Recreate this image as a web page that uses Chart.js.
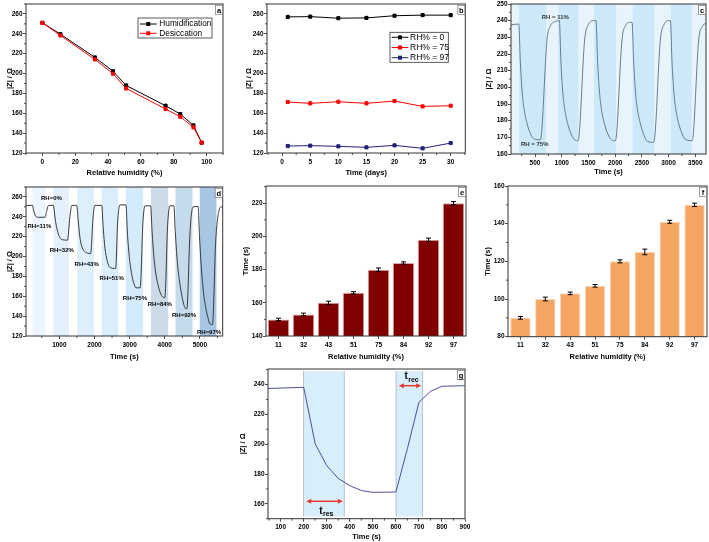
<!DOCTYPE html>
<html>
<head>
<meta charset="utf-8">
<script src="https://cdn.jsdelivr.net/npm/chart.js@4.4.0/dist/chart.umd.min.js"></script>
<style>
  html, body { margin: 0; padding: 0; background: #fff; width: 709px; height: 542px; overflow: hidden; position: relative; }
  canvas { position: absolute; }
</style>
</head>
<body>
<canvas id="pa"></canvas>
<canvas id="pb"></canvas>
<canvas id="pc"></canvas>
<canvas id="pd"></canvas>
<canvas id="pe"></canvas>
<canvas id="pf"></canvas>
<canvas id="pg"></canvas>
<script>
// ---- (a) |Z| vs relative humidity
const aRH = [0, 11, 32, 43, 51, 75, 84, 92, 97];
const aHumid = [251, 239.6, 216.2, 202.3, 188, 167.6, 159.2, 147.8, 130.4];
const aDesic = [251, 238.3, 214.2, 199.8, 185, 164.3, 156.5, 145.8, 130.4];
const aXTicks = [0, 20, 40, 60, 80, 100];
const zTicks = [120, 140, 160, 180, 200, 220, 240, 260];

// ---- (b) stability over days
const bDays = [1, 5, 10, 15, 20, 25, 30];
const bRH0 = [257, 257.3, 255.7, 256, 258.2, 258.8, 258.8];
const bRH75 = [171.3, 170, 171.6, 170, 172.3, 166.9, 167.6];
const bRH97 = [127, 127.4, 126.7, 125.7, 127.7, 124.7, 130];
const bXTicks = [0, 5, 10, 15, 20, 25, 30];

// ---- (c) repeated switching 11% <-> 75%
const cTime = [50, 195, 225, 255, 290, 345, 415, 485, 600, 725, 790, 880,
  955, 985, 1015, 1050, 1105, 1175, 1245, 1305, 1430, 1495, 1585,
  1642, 1672, 1702, 1737, 1792, 1862, 1932, 2004, 2129, 2194, 2280,
  2316, 2346, 2376, 2411, 2466, 2536, 2606, 2722, 2847, 2912, 3000,
  3034, 3064, 3094, 3129, 3184, 3254, 3324, 3440, 3565, 3630, 3700];
const cZ = [237.5, 238, 215, 199, 188, 179, 172, 169, 168.5, 229, 237, 239.5,
  240, 215, 199, 188, 179, 172, 168.5, 168, 229, 237.5, 240,
  240, 215, 199, 188, 179, 172, 168.5, 168, 229, 237, 239,
  239, 215, 199, 188, 179, 171.5, 167.5, 167, 229, 237.5, 240,
  240, 215, 199, 188, 179, 172, 168.5, 168, 229, 236.5, 238.5];
const cHumidBands = [[200, 706], [936, 1311], [1605, 2017], [2329, 2728], [3041, 3434]];
const cXTicks = [500, 1000, 1500, 2000, 2500, 3000, 3500];
const cYTicks = [160, 170, 180, 190, 200, 210, 220, 230, 240, 250];

// ---- (d) stepwise RH response
const dTime = [54, 233, 270, 320, 400, 594, 640, 690,
  830, 880, 930, 1000, 1080, 1230, 1300, 1352,
  1494, 1540, 1590, 1650, 1720, 1800, 1890, 1960, 2014,
  2205, 2250, 2300, 2360, 2440, 2602, 2660, 2724,
  2895, 2940, 2990, 3050, 3120, 3180, 3300, 3380, 3435,
  3597, 3640, 3690, 3750, 3820, 3890, 3955, 4003, 4080, 4145,
  4259, 4300, 4350, 4410, 4480, 4540, 4580, 4630, 4720, 4807,
  4949, 4990, 5040, 5100, 5170, 5240, 5290, 5358, 5450, 5545, 5613, 5650];
const dZ = [251.5, 251.5, 246, 241, 239.5, 239.5, 246, 251.5,
  251.5, 238, 228, 220, 217, 216.5, 240, 251.5,
  251.5, 235, 218, 209, 205, 203.5, 203, 240, 251.5,
  251.5, 228, 208, 196, 189, 188, 235, 252,
  252, 222, 200, 184, 173, 168.5, 168.5, 235, 251,
  251, 225, 200, 182, 170, 162, 159, 158.5, 230, 251,
  251, 225, 198, 178, 162, 152, 148, 147.5, 225, 250,
  250.5, 220, 190, 165, 148, 137, 132, 131.5, 215, 246.5, 250, 250];
const dBands = [[233, 594], [830, 1276], [1511, 1986], [2205, 2676], [2895, 3386], [3605, 4097], [4307, 4790], [4997, 5472]];
const dBandColors = ['#eaf5fd', '#e2f1fc', '#ddeffb', '#d9edfa', '#d3ebfa', '#cbdce8', '#c4dbec', '#a6c6e3'];
const dLabels = ['RH=0%', 'RH=11%', 'RH=32%', 'RH=43%', 'RH=51%', 'RH=75%', 'RH=84%', 'RH=92%', 'RH=97%'];
const dLabelX = [774, 430, 1068, 1778, 2489, 3150, 3861, 4551, 5261];
const dLabelY = [258.4, 230.8, 206, 191.9, 178.1, 158.3, 152.3, 140.6, 124];
const dXTicks = [1000, 2000, 3000, 4000, 5000];

// ---- (e) response time, (f) recovery time
const rhCats = ['11', '32', '43', '51', '75', '84', '92', '97'];
const eResp = [150, 153, 160, 166, 180, 184, 198, 220];
const eErr = [0.7, 0.8, 1, 0.7, 1, 0.7, 1, 1];
const eYTicks = [140, 160, 180, 200, 220];
const fRecov = [90, 100, 103, 107, 120, 125, 141, 150];
const fErr = [0.7, 1, 0.7, 0.7, 0.8, 1.5, 0.8, 0.9];
const fYTicks = [80, 100, 120, 140, 160];

// ---- (g) single cycle
const gTime = [45, 200, 250, 300, 350, 400, 450, 500, 600, 650, 700, 750, 800, 900];
const gZ = [237.4, 238.2, 200.2, 185.6, 177, 172.2, 168.9, 167.7, 167.9, 197, 228.1, 235.5, 238.9, 239.3];
const gBands = [[197, 378], [599, 718]];
const gXTicks = [100, 200, 300, 400, 500, 600, 700, 800, 900];
const gYTicks = [160, 180, 200, 220, 240];

const FONT = '"Liberation Sans", Arial, Helvetica, sans-serif';
const TICK = { size: 6.5, weight: 'bold', family: FONT };
const TITLE = { size: 7.5, weight: 'bold', family: FONT };
const LH = 7.5 * 1.2;

const pts = (xs, ys) => xs.map((x, i) => ({ x, y: ys[i] }));

const deco = {
  id: 'deco',
  beforeDatasetsDraw(chart, _a, o) {
    const { ctx, chartArea: ca, scales: { x, y } } = chart;
    ctx.save();
    ctx.beginPath(); ctx.rect(ca.left, ca.top, ca.width, ca.height); ctx.clip();
    if (o.bg) { ctx.fillStyle = o.bg; ctx.fillRect(ca.left, ca.top, ca.width, ca.height); }
    (o.bands || []).forEach(b => {
      const x0 = x.getPixelForValue(b.from), x1 = x.getPixelForValue(b.to);
      const y0 = b.top != null ? y.getPixelForValue(b.top) : ca.top;
      const y1 = b.bottom != null ? y.getPixelForValue(b.bottom) : ca.bottom;
      ctx.fillStyle = b.color;
      ctx.fillRect(x0, y0, x1 - x0, y1 - y0);
      if (b.edge) {
        ctx.strokeStyle = b.edge; ctx.lineWidth = 1;
        ctx.beginPath();
        ctx.moveTo(x0 + 0.5, y0); ctx.lineTo(x0 + 0.5, y1);
        ctx.moveTo(x1 - 0.5, y0); ctx.lineTo(x1 - 0.5, y1);
        ctx.stroke();
      }
    });
    ctx.restore();
  },
  afterDatasetsDraw(chart, _a, o) {
    const { ctx, scales: { x, y } } = chart;
    ctx.save();
    if (o.errors) {
      const meta = chart.getDatasetMeta(0);
      const vals = chart.data.datasets[0].data;
      ctx.strokeStyle = '#000'; ctx.lineWidth = 1;
      meta.data.forEach((bar, i) => {
        const yt = y.getPixelForValue(vals[i] + o.errors[i]);
        const yb = y.getPixelForValue(vals[i] - o.errors[i]);
        ctx.beginPath();
        ctx.moveTo(bar.x, yt); ctx.lineTo(bar.x, yb);
        ctx.moveTo(bar.x - 2.5, yt); ctx.lineTo(bar.x + 2.5, yt);
        ctx.moveTo(bar.x - 2.5, yb); ctx.lineTo(bar.x + 2.5, yb);
        ctx.stroke();
      });
    }
    (o.notes || []).forEach(n => {
      ctx.font = `bold ${n.size || 6}px ${FONT}`;
      ctx.fillStyle = n.color || '#000';
      ctx.textAlign = 'center'; ctx.textBaseline = 'middle';
      ctx.fillText(n.text, x.getPixelForValue(n.x), y.getPixelForValue(n.y));
    });
    (o.arrows || []).forEach(a => {
      const x0 = x.getPixelForValue(a.x0), x1 = x.getPixelForValue(a.x1), yy = y.getPixelForValue(a.y);
      ctx.strokeStyle = '#e43a2f'; ctx.fillStyle = '#e43a2f'; ctx.lineWidth = 1.5;
      ctx.beginPath(); ctx.moveTo(x0 + 3, yy); ctx.lineTo(x1 - 3, yy); ctx.stroke();
      ctx.beginPath();
      ctx.moveTo(x0, yy); ctx.lineTo(x0 + 5, yy - 2.5); ctx.lineTo(x0 + 5, yy + 2.5); ctx.closePath();
      ctx.moveTo(x1, yy); ctx.lineTo(x1 - 5, yy - 2.5); ctx.lineTo(x1 - 5, yy + 2.5); ctx.closePath();
      ctx.fill();
    });
    (o.subs || []).forEach(s => {
      const px = x.getPixelForValue(s.x), py = y.getPixelForValue(s.y);
      ctx.fillStyle = '#000'; ctx.textBaseline = 'alphabetic'; ctx.textAlign = 'left';
      ctx.font = `bold 10px ${FONT}`;
      ctx.fillText(s.main, px - 3, py + 3);
      const w = ctx.measureText(s.main).width;
      ctx.font = `bold 7px ${FONT}`;
      ctx.fillText(s.sub, px - 3 + w + 0.5, py + 5.5);
    });
    ctx.restore();
  },
  afterDraw(chart, _a, o) {
    const { ctx, chartArea: ca } = chart;
    ctx.save();
    // minor ticks (one between majors)
    ctx.strokeStyle = '#222'; ctx.lineWidth = 0.8;
    ['x', 'y'].forEach(k => {
      const s = chart.scales[k];
      if (s.type !== 'linear' || s.ticks.length < 2) return;
      const t = s.ticks.map(tk => tk.value);
      const step = t[1] - t[0];
      ctx.beginPath();
      for (let v = t[0] - step / 2; v <= s.max; v += step) {
        if (v < s.min) continue;
        const p = s.getPixelForValue(v);
        if (k === 'x') { ctx.moveTo(p, ca.bottom); ctx.lineTo(p, ca.bottom + 2); }
        else { ctx.moveTo(ca.left, p); ctx.lineTo(ca.left - 2, p); }
      }
      ctx.stroke();
    });
    // frame
    ctx.strokeStyle = '#333'; ctx.lineWidth = 1;
    ctx.strokeRect(ca.left, ca.top, ca.width, ca.height);
    // panel letter
    if (o.tag) {
      const w = 7, h = 9, bx = ca.right - w - 0.5, by = ca.top + 1.5;
      ctx.fillStyle = '#fff'; ctx.fillRect(bx, by, w, h);
      ctx.strokeStyle = '#777'; ctx.lineWidth = 0.7; ctx.strokeRect(bx, by, w, h);
      ctx.fillStyle = '#000'; ctx.font = `bold 7.5px ${FONT}`;
      ctx.textAlign = 'center'; ctx.textBaseline = 'middle';
      ctx.fillText(o.tag, bx + w / 2, by + h / 2 + 0.5);
    }
    // legend box
    if (o.legend) {
      const L = o.legend, bx = ca.left + L.x, by = ca.top + L.y;
      ctx.fillStyle = '#fff'; ctx.fillRect(bx, by, L.w, L.h);
      ctx.strokeStyle = '#333'; ctx.lineWidth = 0.8; ctx.strokeRect(bx, by, L.w, L.h);
      L.order.forEach((di, r) => {
        const ds = chart.data.datasets[di];
        const cy = by + L.row0 + r * L.gap;
        ctx.strokeStyle = ds.borderColor; ctx.lineWidth = 1;
        ctx.beginPath(); ctx.moveTo(bx + L.lx0, cy); ctx.lineTo(bx + L.lx1, cy); ctx.stroke();
        ctx.fillStyle = ds.backgroundColor;
        ctx.fillRect(bx + (L.lx0 + L.lx1) / 2 - 2, cy - 2, 4, 4);
        ctx.fillStyle = '#000'; ctx.font = `${L.size}px ${FONT}`;
        ctx.textAlign = 'left'; ctx.textBaseline = 'middle';
        ctx.fillText(ds.label, bx + L.tx, cy);
      });
    }
    ctx.restore();
  }
};

function linAxis(min, max, ticks, title, pad) {
  return {
    type: 'linear', min, max,
    afterBuildTicks: s => { s.ticks = ticks.map(v => ({ value: v })); },
    ticks: { font: TICK, color: '#000', padding: pad, maxRotation: 0, autoSkip: false, callback: v => String(v) },
    grid: { drawOnChartArea: false, tickLength: 3, color: '#222', lineWidth: 0.8 },
    border: { display: false },
    title: { display: true, text: title, font: TITLE, color: '#000', padding: 0 }
  };
}

function catAxis(title) {
  return {
    type: 'category',
    ticks: { font: TICK, color: '#000', padding: 2, maxRotation: 0, autoSkip: false },
    grid: { offset: false, drawOnChartArea: false, tickLength: 3, color: '#222', lineWidth: 0.8 },
    border: { display: false },
    title: { display: true, text: title, font: TITLE, color: '#000', padding: 0 }
  };
}

// place a canvas so the plot area lands on plot {l,t,r,b}
function panel(id, plot, yTitleX, xTitleY, type, data, scales, deco_opts) {
  const x0 = plot.l - 40, y0 = plot.t - 15;
  const cv = document.getElementById(id);
  cv.width = Math.round(plot.r + 15 - x0);
  cv.height = Math.round(xTitleY + LH / 2 - y0);
  cv.style.left = x0 + 'px';
  cv.style.top = y0 + 'px';
  const padLeft = yTitleX - LH / 2 - x0;
  const yW = plot.l - x0 - padLeft;
  const xH = xTitleY + LH / 2 - plot.b;
  scales.x.afterFit = s => { s.height = xH; };
  scales.y.afterFit = s => { s.width = yW; };
  return new Chart(cv, {
    type, data,
    options: {
      responsive: false, animation: false, devicePixelRatio: 1,
      layout: { padding: { left: padLeft, top: plot.t - y0, right: cv.width + x0 - plot.r, bottom: cv.height + y0 - (plot.b + xH) } },
      scales,
      plugins: { legend: { display: false }, tooltip: { enabled: false }, deco: deco_opts }
    },
    plugins: [deco]
  });
}

const lineDs = (label, xs, ys, color, extra) => Object.assign({
  label, data: pts(xs, ys), borderColor: color, backgroundColor: color,
  borderWidth: 1, pointRadius: 0, tension: 0
}, extra || {});

// (a)
panel('pa', { l: 26, t: 4, r: 223, b: 153 }, 9.8, 172.5, 'line', {
  datasets: [
    lineDs('Humidification', aRH, aHumid, '#000', { pointStyle: 'rect', pointRadius: 2.2, order: 1 }),
    lineDs('Desiccation', aRH, aDesic, '#ff0000', { pointStyle: 'rect', pointRadius: 2.2, order: 0 })
  ]
}, {
  x: linAxis(-10, 110, aXTicks, 'Relative humidity (%)', 2),
  y: linAxis(120, 270, zTicks, '|Z| / Ω', 0.5)
}, { tag: 'a', legend: { x: 112, y: 14, w: 74, h: 20, row0: 6, gap: 9.3, lx0: 2, lx1: 18.7, tx: 21.3, size: 8.3, order: [0, 1] } });

// (b)
panel('pb', { l: 267, t: 4, r: 465.3, b: 153 }, 249, 172.5, 'line', {
  datasets: [
    lineDs('RH% = 0', bDays, bRH0, '#000', { pointStyle: 'rect', pointRadius: 2.2 }),
    lineDs('RH% = 75', bDays, bRH75, '#ff0000', { pointStyle: 'rect', pointRadius: 2.2 }),
    lineDs('RH% = 97', bDays, bRH97, '#22227a', { pointStyle: 'rect', pointRadius: 2.2 })
  ]
}, {
  x: linAxis(-2.7, 32.6, bXTicks, 'Time (days)', 2),
  y: linAxis(120, 270, zTicks, '|Z| / Ω', 0.5)
}, { tag: 'b', legend: { x: 123, y: 28.3, w: 58.3, h: 30, row0: 5, gap: 10.2, lx0: 1.7, lx1: 18.3, tx: 20, size: 8.5, order: [0, 1, 2] } });

// (c)
panel('pc', { l: 511, t: 4, r: 706, b: 154 }, 489, 172, 'line', {
  datasets: [lineDs('c', cTime, cZ, '#647d90', { cubicInterpolationMode: 'monotone' })]
}, {
  x: linAxis(50, 3700, cXTicks, 'Time (s)', 2),
  y: linAxis(160, 250, cYTicks, '|Z| / Ω', 0.5)
}, {
  tag: 'c', bg: '#e8f4fc',
  bands: cHumidBands.map(([from, to]) => ({ from, to, color: '#cde8f8' })),
  notes: [{ text: 'RH = 11%', x: 880, y: 242, color: '#333' }, { text: 'RH = 75%', x: 494, y: 165.8, color: '#333' }]
});

// (d)
panel('pd', { l: 26, t: 186.7, r: 222.7, b: 335.7 }, 10, 357, 'line', {
  datasets: [lineDs('d', dTime, dZ, '#3a3a3a', { cubicInterpolationMode: 'monotone' })]
}, {
  x: linAxis(50, 5650, dXTicks, 'Time (s)', 2),
  y: linAxis(120, 270, zTicks, '|Z| / Ω', 0.5)
}, {
  tag: 'd',
  bands: dBands.map(([from, to], i) => ({ from, to, color: dBandColors[i] })),
  notes: dLabels.map((text, i) => ({ text, x: dLabelX[i], y: dLabelY[i] }))
});

// (e)
panel('pe', { l: 266, t: 186, r: 466, b: 336 }, 245.5, 357, 'bar', {
  labels: rhCats,
  datasets: [{ data: eResp, backgroundColor: '#800000', borderColor: '#e0a8a8', borderWidth: 1, barPercentage: 0.86, categoryPercentage: 1 }]
}, {
  x: catAxis('Relative humidity (%)'),
  y: linAxis(140, 230.4, eYTicks, 'Time (s)', 0.5)
}, { tag: 'e', errors: eErr });

// (f)
panel('pf', { l: 508, t: 186, r: 707, b: 336.7 }, 488, 357, 'bar', {
  labels: rhCats,
  datasets: [{ data: fRecov, backgroundColor: '#f4a463', borderColor: '#fbd6b6', borderWidth: 1, barPercentage: 0.82, categoryPercentage: 1 }]
}, {
  x: catAxis('Relative humidity (%)'),
  y: linAxis(80, 160, fYTicks, 'Time (s)', 0.5)
}, { tag: 'f', errors: fErr });

// (g)
panel('pg', { l: 268.3, t: 369.3, r: 465.3, b: 519 }, 243, 537, 'line', {
  datasets: [lineDs('g', gTime, gZ, '#4b4f9e')]
}, {
  x: linAxis(45, 900, gXTicks, 'Time (s)', 2),
  y: linAxis(150, 250.5, gYTicks, '|Z| / Ω', 0.5)
}, {
  tag: 'g',
  bands: gBands.map(([from, to]) => ({ from, to, top: 249, bottom: 151.5, color: '#d9eefb', edge: '#b9c4cc' })),
  arrows: [{ x0: 211, x1: 370, y: 161.7 }, { x0: 613, x1: 710, y: 239.3 }],
  subs: [{ main: 't', sub: 'res', x: 280, y: 155.5 }, { main: 't', sub: 'rec', x: 650, y: 245.5 }]
});
</script>
</body>
</html>
